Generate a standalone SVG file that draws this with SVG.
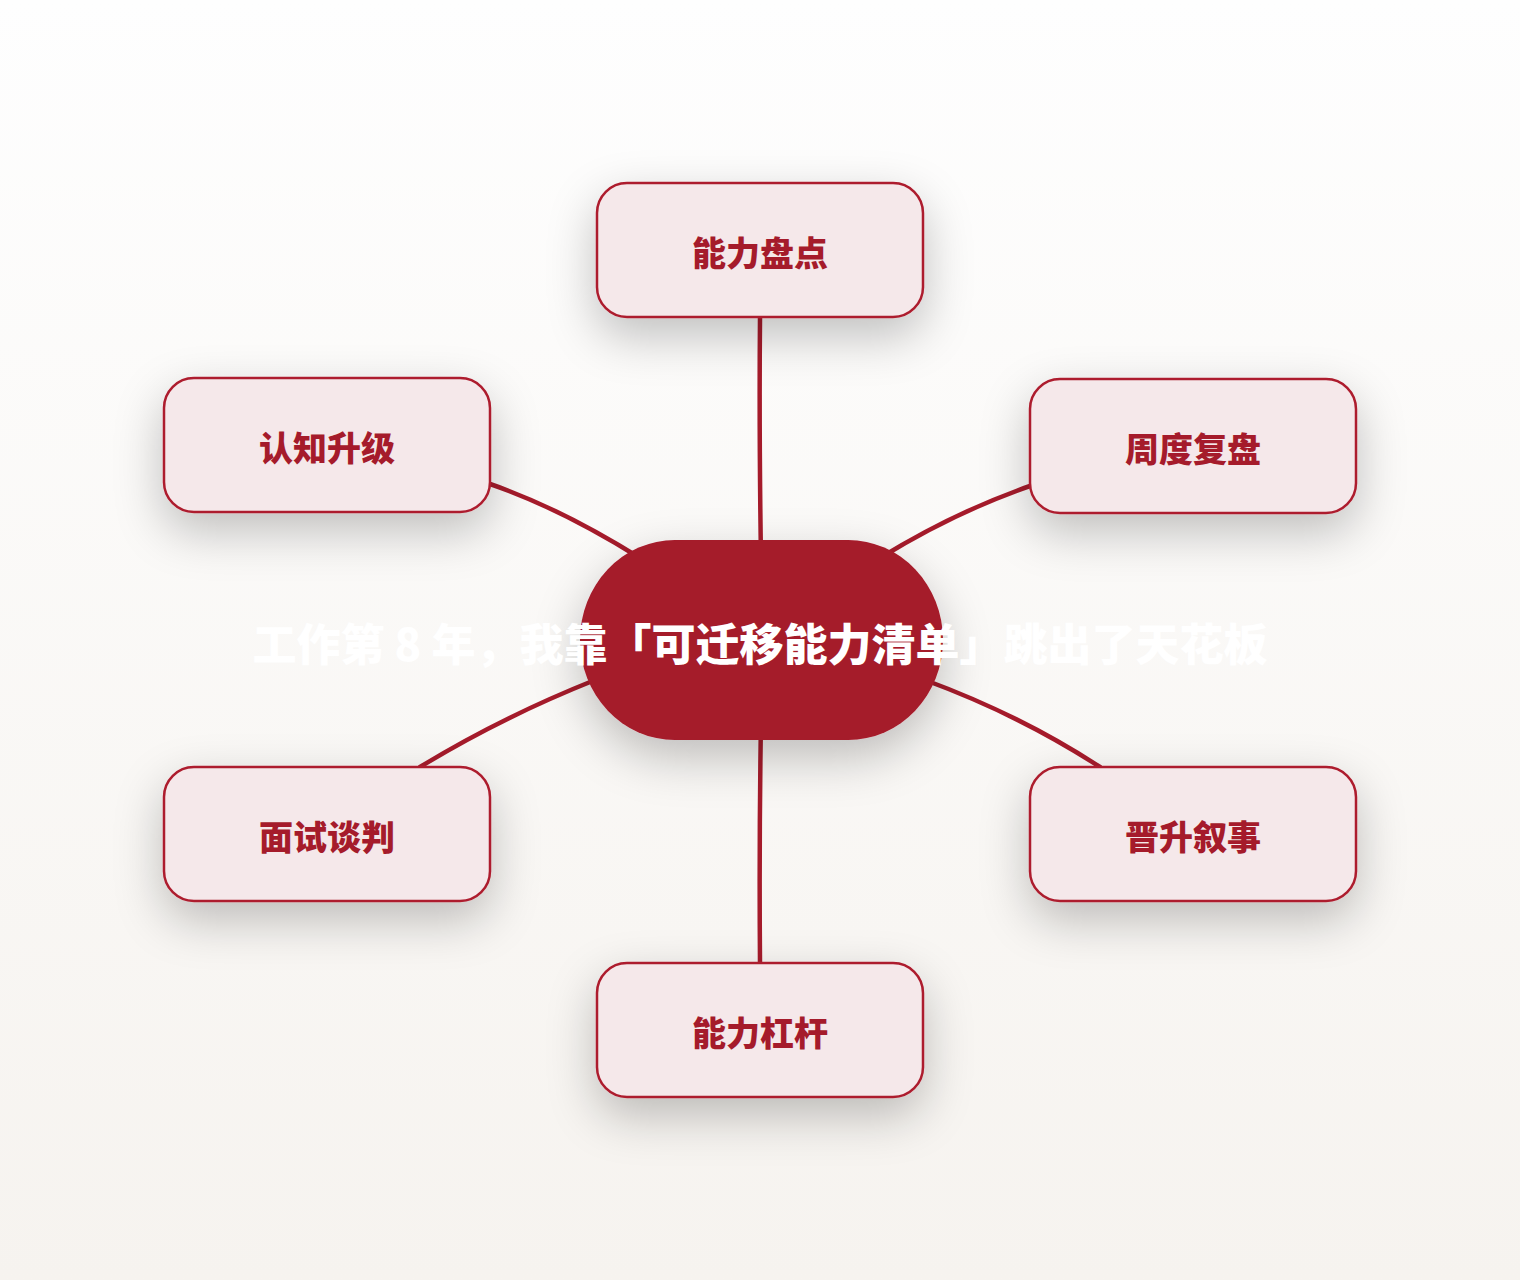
<svg xmlns="http://www.w3.org/2000/svg" width="1520" height="1280" viewBox="0 0 1520 1280">
<defs>
<linearGradient id="bg" x1="0" y1="0" x2="0" y2="1">
<stop offset="0" stop-color="#fefefe"/>
<stop offset="1" stop-color="#f6f3ef"/>
</linearGradient>
<filter id="sh" x="-50%" y="-70%" width="200%" height="260%">
<feDropShadow dx="0" dy="18" stdDeviation="24" flood-color="#000" flood-opacity="0.24"/>
</filter>
</defs>
<style>
.node rect{fill:#f5e8ea;stroke:#ad1c2d;stroke-width:2.5;filter:url(#sh)}
.node text{fill:#a51b2b;font-family:"Noto Sans CJK SC","Noto Sans",sans-serif;font-weight:900;font-size:34px;text-anchor:middle;dominant-baseline:central}
.conn path{fill:none;stroke:#a51b2b;stroke-width:4.5;stroke-linecap:round}
.center rect{fill:#a51b2b;filter:url(#sh)}
.center text{fill:#ffffff;font-family:"Noto Sans CJK SC","Noto Sans",sans-serif;font-weight:900;font-size:44px;text-anchor:middle;dominant-baseline:central}
</style>
<rect width="1520" height="1280" fill="url(#bg)"/>
<g id="connectors" class="conn">
<path d="M760,318 Q759,430 761,560"/>
<path d="M761,720 Q759,840 760,963"/>
<path d="M490,484 Q560,508 640,558"/>
<path d="M1030,486 Q955,512 880,558"/>
<path d="M420,767 Q500,718 595,680"/>
<path d="M1100,767 Q1020,715 925,680"/>
</g>
<g id="center" class="center">
<rect x="580" y="540" width="363" height="200" rx="95" ry="100"/>
<text x="760" y="642">工作第 8 年，我靠「可迁移能力清单」跳出了天花板</text>
</g>
<g id="n-top" class="node"><rect x="597" y="183" width="326" height="134" rx="30"/><text x="760" y="251">能力盘点</text></g>
<g id="n-lt" class="node"><rect x="164" y="378" width="326" height="134" rx="30"/><text x="327" y="446">认知升级</text></g>
<g id="n-rt" class="node"><rect x="1030" y="379" width="326" height="134" rx="30"/><text x="1193" y="447">周度复盘</text></g>
<g id="n-lb" class="node"><rect x="164" y="767" width="326" height="134" rx="30"/><text x="327" y="835">面试谈判</text></g>
<g id="n-rb" class="node"><rect x="1030" y="767" width="326" height="134" rx="30"/><text x="1193" y="835">晋升叙事</text></g>
<g id="n-bot" class="node"><rect x="597" y="963" width="326" height="134" rx="30"/><text x="760" y="1031">能力杠杆</text></g>
</svg>
